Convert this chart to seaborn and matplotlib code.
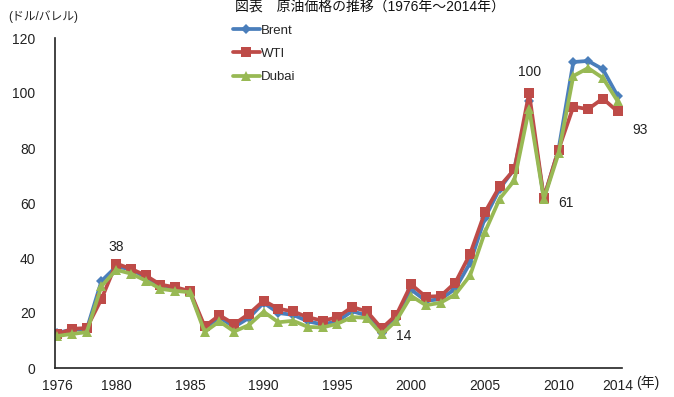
import matplotlib
matplotlib.use("Agg")
import matplotlib.pyplot as plt
import seaborn as sns
import pandas as pd

years = list(range(1976, 2015))
brent = [12.80, 13.92, 14.02, 31.61, 36.83, 35.93, 32.97, 29.55, 28.78, 27.56,
         14.43, 18.44, 14.92, 18.23, 23.73, 20.00, 19.32, 16.97, 15.82, 17.02,
         20.67, 19.09, 12.72, 17.97, 28.50, 24.44, 25.02, 28.83, 38.27, 54.52,
         65.14, 72.39, 97.26, 61.67, 79.50, 111.26, 111.67, 108.66, 98.95]
wti = [12.23, 14.22, 14.55, 25.08, 37.96, 36.08, 33.65, 30.30, 29.39, 27.98,
       15.10, 19.18, 15.97, 19.68, 24.50, 21.54, 20.57, 18.45, 17.21, 18.42,
       22.16, 20.61, 14.39, 19.31, 30.37, 25.93, 26.16, 31.07, 41.49, 56.59,
       66.02, 72.20, 100.06, 61.92, 79.45, 95.04, 94.13, 97.99, 93.28]
dubai = [11.63, 12.38, 13.03, 29.75, 35.69, 34.32, 31.80, 28.78, 28.06, 27.53,
         13.10, 16.95, 13.27, 15.62, 20.45, 16.63, 17.17, 14.93, 14.74, 16.10,
         18.52, 18.23, 12.21, 17.25, 26.20, 22.81, 23.74, 26.78, 33.64, 49.35,
         61.50, 68.19, 94.34, 61.39, 78.06, 106.18, 109.08, 105.47, 97.07]
series_names = ["Brent", "WTI", "Dubai"]
xtick_years = [1976, 1980, 1985, 1990, 1995, 2000, 2005, 2010, 2014]
yticks = [0, 20, 40, 60, 80, 100, 120]
annotations = [(1980, 38, "38"), (2008, 100, "100"), (1998, 14, "14"),
               (2009, 61, "61"), (2014, 93, "93")]

df = pd.DataFrame({"year": years * 3,
                   "price": brent + wti + dubai,
                   "series": sum([[n] * len(years) for n in series_names], [])})

sns.set_theme(style="white")
plt.rcParams["font.family"] = ["Liberation Sans", "Noto Sans CJK JP", "DejaVu Sans"]

fig = plt.figure(figsize=(6.74, 3.97), dpi=100)
ax = fig.add_axes([55 / 674, 1 - 368 / 397, (622 - 55) / 674, (368 - 38) / 397])

palette = {"Brent": "#4A7EBB", "WTI": "#BE4B48", "Dubai": "#98B954"}
markers = {"Brent": "D", "WTI": "s", "Dubai": "^"}
sizes = {"Brent": 5, "WTI": 7.5, "Dubai": 6.5}
for name in series_names:
    sub = df[df.series == name]
    sns.lineplot(data=sub, x="year", y="price", ax=ax, color=palette[name],
                 marker=markers[name], markersize=sizes[name], markeredgewidth=0,
                 linewidth=2.7, label=name)

ax.set_xlim(1975.85, 2014.3)
ax.set_ylim(0, 120)
ax.set_xticks(xtick_years)
ax.set_xticks(years, minor=True)
ax.set_yticks(yticks)
ax.set_xticklabels([str(y) for y in xtick_years], fontsize=10)
ax.set_yticklabels([str(y) for y in yticks], fontsize=10)
ax.tick_params(axis="x", which="both", direction="in", length=3, width=0.6,
               colors="#999999", labelcolor="#222222", pad=8)
ax.tick_params(axis="y", which="major", direction="in", length=3, width=0.6,
               colors="#999999", labelcolor="#222222", pad=14)
ax.set_xlabel("")
ax.set_ylabel("")
for s in ["top", "right"]:
    ax.spines[s].set_visible(False)
for s in ["left", "bottom"]:
    ax.spines[s].set_color("#222222")
    ax.spines[s].set_linewidth(1.2)

offsets = {"38": (0, 7), "100": (0, 10), "14": (16, -5), "61": (16, -2), "93": (16, -13)}
for x, y, t in annotations:
    dx, dy = offsets[t]
    ax.annotate(t, (x, y), xytext=(dx, dy), textcoords="offset points",
                ha="center", va="bottom" if dy > 0 else "center", fontsize=10,
                color="#222222")

fig.text(614 / 674 + 0.050, 1 - 383 / 397, "(年)", fontsize=10, ha="center",
         va="center", color="#222222")
fig.text(8 / 674, 1 - 17 / 397, "(ドル/バレル)", fontsize=8.5, ha="left",
         va="center", color="#222222")
fig.text(370 / 674, 1 - 7 / 397, "図表　原油価格の推移（1976年～2014年）",
         fontsize=10, ha="center", va="center", color="#111111")

leg = ax.legend(loc="upper left", bbox_to_anchor=(228 / 674, 1 - 19 / 397),
                bbox_transform=fig.transFigure, frameon=False, fontsize=9.5,
                handlelength=2.0, handletextpad=0.1, labelspacing=0.85,
                borderaxespad=0)

fig.savefig("out.png", dpi=100, facecolor="white")
